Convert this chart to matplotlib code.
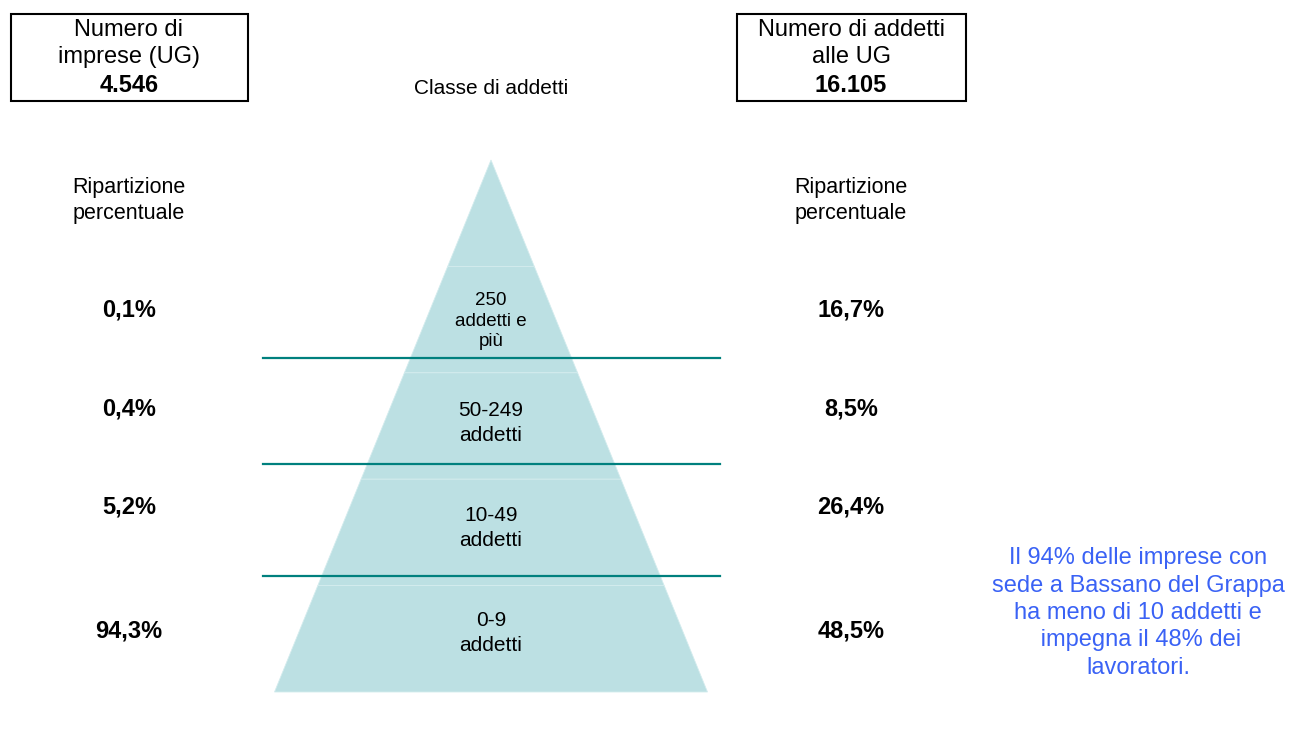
import matplotlib.pyplot as plt
import numpy as np

# dati
classi = ["0-9\naddetti", "10-49\naddetti", "50-249\naddetti", "250\naddetti e\npiù"]
quota_imprese = ["94,3%", "5,2%", "0,4%", "0,1%"]
quota_addetti = ["48,5%", "26,4%", "8,5%", "16,7%"]
tot_imprese = "4.546"
tot_addetti = "16.105"
nota = "Il 94% delle imprese con\nsede a Bassano del Grappa\nha meno di 10 addetti e\n impegna il 48% dei\nlavoratori."

plt.rcParams['font.family'] = ['Liberation Sans', 'DejaVu Sans']

fig = plt.figure(figsize=(12.9, 7.45), dpi=100)
ax = fig.add_axes([0, 0, 1, 1])
ax.set_xlim(0, 1290)
ax.set_ylim(745, 0)
ax.axis('off')

fill_c = '#bce0e3'
teal = '#00807e'

# piramide: 5 fasce uguali, la prima in alto vuota
apex_x, apex_y = 491, 160
base_y, half_base = 692, 216.5
n_fasce = 5
h = (base_y - apex_y) / n_fasce
def half_w(y):
    return half_base * (y - apex_y) / (base_y - apex_y)
for k in range(n_fasce):
    y0 = apex_y + k * h
    y1 = y0 + h
    xs = [apex_x - half_w(y0), apex_x + half_w(y0), apex_x + half_w(y1), apex_x - half_w(y1)]
    ys = [y0, y0, y1, y1]
    ax.fill(xs, ys, color=fill_c, ec='#d4ecee', lw=0.6)

# linee separatrici
for y in [358, 464, 576]:
    ax.plot([263, 720], [y, y], color=teal, lw=1.6)

# etichette delle classi
label_y = [633, 528, 423, 321]
label_fs = [15, 15, 15, 13.5]
label_ls = [1.4, 1.4, 1.4, 1.3]
for lab, y, fs, ls in zip(classi, label_y, label_fs, label_ls):
    ax.text(apex_x, y, lab, ha='center', va='center', fontsize=fs, linespacing=ls)

ax.text(apex_x, 89, "Classe di addetti", ha='center', va='center', fontsize=15)

# riquadri in alto
ax.add_patch(plt.Rectangle((11, 14), 237, 87, fill=False, ec='black', lw=1.5))
ax.add_patch(plt.Rectangle((737, 14), 229, 87, fill=False, ec='black', lw=1.5))
ax.text(129, 43.5, "Numero di\nimprese (UG)", ha='center', va='center', fontsize=17, linespacing=1.3)
ax.text(129, 85, tot_imprese, ha='center', va='center', fontsize=17, fontweight='bold')
ax.text(851, 43.5, "Numero di addetti\nalle UG", ha='center', va='center', fontsize=17, linespacing=1.3)
ax.text(851, 85, tot_addetti, ha='center', va='center', fontsize=17, fontweight='bold')

for x in [129, 851]:
    ax.text(x, 200.5, "Ripartizione\npercentuale", ha='center', va='center', fontsize=15.5, linespacing=1.25)

pct_y = [631, 507, 409, 310]
for qi, qa, y in zip(quota_imprese, quota_addetti, pct_y):
    ax.text(129, y, qi, ha='center', va='center', fontsize=17, fontweight='bold')
    ax.text(851, y, qa, ha='center', va='center', fontsize=17, fontweight='bold')

ax.text(1138, 613, nota, ha='center', va='center', fontsize=17, color='#3a62f5', linespacing=1.32)

fig.savefig('out.png', dpi=100)
